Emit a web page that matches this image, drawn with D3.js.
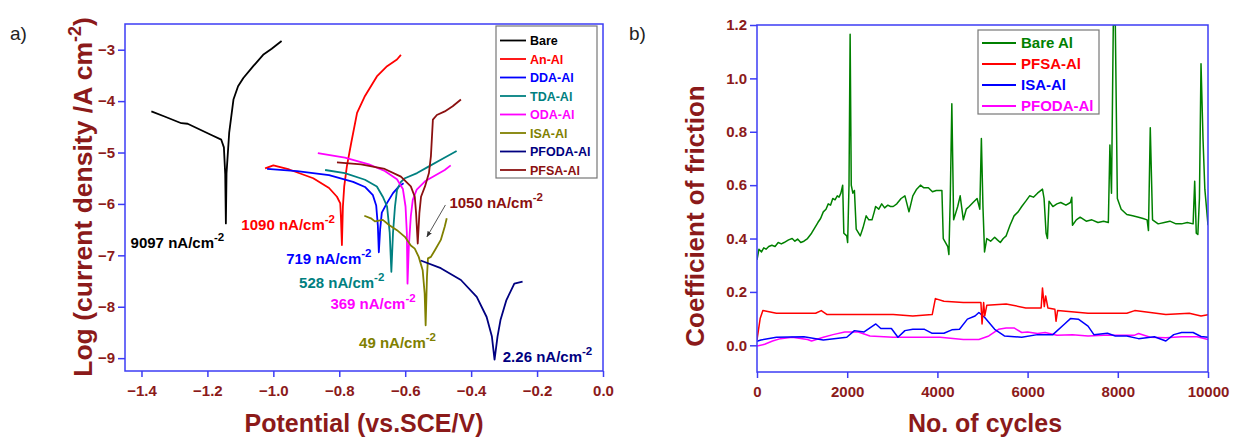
<!DOCTYPE html>
<html>
<head>
<meta charset="utf-8">
<script src="https://cdn.jsdelivr.net/npm/d3@7"></script>
<style>
  html, body { margin: 0; padding: 0; background: #fff; }
  svg { display: block; font-family: Arial, "Liberation Sans", sans-serif; }
</style>
</head>
<body>
<div id="chart"></div>
<script>
// ---------- panel a : Tafel curves [potential V, log i] ----------
const tafelNames = ["Bare", "An-Al", "DDA-Al", "TDA-Al", "ODA-Al", "ISA-Al", "PFODA-Al", "PFSA-Al"];
const tafelColors = ["#000000", "#ff0000", "#0000ff", "#008080", "#ff00ff", "#808000", "#000080", "#8b1010"];

const bare = [[-1.37,-4.2],[-1.33,-4.3],[-1.279,-4.43],[-1.26,-4.44],[-1.188,-4.66],[-1.158,-4.75],[-1.15,-4.9],
  [-1.146,-5.42],[-1.144,-6.38],[-1.142,-5.4],[-1.134,-4.62],[-1.121,-3.97],[-1.107,-3.71],[-1.091,-3.55],
  [-1.061,-3.32],[-1.031,-3.1],[-1.005,-2.98],[-0.975,-2.83]];
const anAl = [[-1.025,-5.31],[-1.0,-5.25],[-0.952,-5.33],[-0.879,-5.5],[-0.831,-5.69],[-0.807,-5.86],[-0.797,-5.99],
  [-0.795,-6.25],[-0.792,-6.8],[-0.789,-6.05],[-0.785,-5.66],[-0.777,-5.27],[-0.764,-4.82],[-0.746,-4.23],
  [-0.722,-3.9],[-0.686,-3.52],[-0.655,-3.32],[-0.625,-3.19],[-0.613,-3.1]];
const ddaAl = [[-1.019,-5.32],[-0.928,-5.36],[-0.831,-5.44],[-0.758,-5.57],[-0.722,-5.67],[-0.698,-5.83],
  [-0.688,-6.03],[-0.683,-6.42],[-0.680,-6.94],[-0.676,-6.49],[-0.671,-6.17],[-0.655,-5.98],[-0.637,-5.79],
  [-0.619,-5.66],[-0.605,-5.6]];
const tdaAl = [[-0.843,-5.34],[-0.783,-5.4],[-0.722,-5.53],[-0.686,-5.66],[-0.668,-5.86],[-0.655,-6.05],
  [-0.647,-6.56],[-0.642,-7.32],[-0.637,-6.56],[-0.631,-6.05],[-0.625,-5.73],[-0.613,-5.57],[-0.601,-5.5],
  [-0.564,-5.4],[-0.528,-5.27],[-0.492,-5.14],[-0.444,-4.97]];
const odaAl = [[-0.865,-5.01],[-0.783,-5.1],[-0.71,-5.23],[-0.662,-5.36],[-0.625,-5.52],[-0.607,-5.71],
  [-0.599,-6.05],[-0.595,-6.57],[-0.593,-7.55],[-0.589,-6.83],[-0.583,-6.24],[-0.577,-5.92],[-0.565,-5.72],
  [-0.540,-5.56],[-0.516,-5.47],[-0.48,-5.34],[-0.462,-5.25]];
const isaAl = [[-0.724,-6.23],[-0.704,-6.28],[-0.692,-6.34],[-0.668,-6.31],[-0.649,-6.41],[-0.625,-6.51],
  [-0.601,-6.64],[-0.583,-6.81],[-0.571,-6.87],[-0.559,-7.03],[-0.547,-7.29],[-0.541,-7.74],[-0.538,-8.36],
  [-0.534,-7.42],[-0.531,-7.06],[-0.522,-7.03],[-0.51,-6.9],[-0.492,-6.7],[-0.48,-6.44],[-0.474,-6.28]];
const pfodaAl = [[-0.553,-7.1],[-0.492,-7.25],[-0.431,-7.48],[-0.383,-7.81],[-0.353,-8.2],[-0.337,-8.58],
  [-0.329,-9.03],[-0.32,-8.58],[-0.311,-8.26],[-0.293,-7.87],[-0.269,-7.55],[-0.244,-7.51]];
const pfsaAl = [[-0.807,-5.19],[-0.734,-5.23],[-0.662,-5.32],[-0.613,-5.47],[-0.583,-5.66],[-0.571,-5.86],
  [-0.567,-6.18],[-0.562,-6.77],[-0.557,-6.18],[-0.552,-5.86],[-0.540,-5.66],[-0.528,-5.4],[-0.522,-5.07],
  [-0.516,-4.36],[-0.504,-4.27],[-0.480,-4.2],[-0.456,-4.1],[-0.431,-3.97]];
const tafelSeries = [bare, anAl, ddaAl, tdaAl, odaAl, isaAl, pfodaAl, pfsaAl];

// corrosion current labels: [x, y, value, series index]
const icorrLabels = [[-1.433,-6.86,"9097",0],[-1.097,-6.51,"1090",1],[-0.961,-7.16,"719",2],[-0.922,-7.64,"528",3],
  [-0.827,-8.05,"369",4],[-0.74,-8.81,"49",5],[-0.304,-9.07,"2.26",6],[-0.466,-6.08,"1050",7]];
const arrowPts = [[-0.478,-6.02],[-0.534,-6.64]];

const xTicksA = [-1.4,-1.2,-1.0,-0.8,-0.6,-0.4,-0.2,0.0];
const yTicksA = [-3,-4,-5,-6,-7,-8,-9];

// ---------- panel b : friction [cycles, COF] ----------
const fricNames = ["Bare Al", "PFSA-Al", "ISA-Al", "PFODA-Al"];
const fricColors = ["#008000", "#ff0000", "#0000ff", "#ff00ff"];

const bareAl = [[0,0.32],[43,0.36],[100,0.35],[150,0.365],[200,0.36],[260,0.37],[330,0.375],[400,0.37],[470,0.385],
  [540,0.38],[600,0.385],[700,0.395],[780,0.40],[840,0.39],[900,0.398],[970,0.385],[1040,0.39],[1120,0.4],
  [1210,0.42],[1280,0.44],[1350,0.46],[1410,0.475],[1470,0.50],[1530,0.51],[1580,0.53],[1630,0.525],[1680,0.55],
  [1730,0.545],[1780,0.56],[1820,0.555],[1860,0.57],[1900,0.60],[1925,0.42],
  [1990,0.41],[2010,0.385],[2040,0.60],[2065,1.165],[2090,0.60],[2125,0.57],[2160,0.58],[2200,0.435],[2290,0.41],
  [2350,0.44],[2420,0.485],[2480,0.47],[2550,0.47],[2600,0.5],[2630,0.52],[2700,0.51],[2765,0.53],[2830,0.515],
  [2900,0.525],[2960,0.52],[3020,0.52],[3100,0.53],[3195,0.55],[3280,0.56],[3370,0.50],
  [3455,0.56],[3540,0.585],[3625,0.60],[3700,0.59],[3800,0.59],[3890,0.575],[3975,0.58],[4100,0.58],[4130,0.40],[4230,0.37],[4255,0.34],[4285,0.55],
  [4320,0.905],[4360,0.47],[4450,0.52],[4505,0.56],[4575,0.47],[4640,0.51],[4705,0.52],[4790,0.535],[4880,0.55],[4940,0.51],[4975,0.775],
  [5010,0.52],[5045,0.35],[5095,0.40],[5180,0.39],[5270,0.405],[5330,0.395],[5395,0.385],[5460,0.4],[5525,0.41],[5610,0.45],[5700,0.485],
  [5790,0.5],[5870,0.52],[5960,0.54],[6045,0.56],[6130,0.555],
  [6220,0.57],[6330,0.585],[6365,0.55],[6410,0.42],[6440,0.40],[6475,0.54],[6560,0.52],[6650,0.53],[6735,0.535],[6850,0.525],[6950,0.535],
  [6980,0.555],[6995,0.45],[7080,0.47],[7165,0.48],[7300,0.465],[7425,0.47],[7560,0.46],[7685,0.465],[7790,0.46],[7825,0.75],[7860,0.57],[7900,1.2],
  [7945,1.2],[7990,0.55],[8075,0.51],[8200,0.49],[8330,0.485],[8460,0.48],[8560,0.475],[8650,0.47],[8680,0.43],[8720,0.815],[8770,0.47],
  [8895,0.455],[9030,0.46],[9155,0.465],[9290,0.455],[9415,0.455],[9540,0.46],[9670,0.455],[9705,0.615],[9740,0.42],[9775,0.415],[9810,0.55],
  [9845,1.055],[9890,0.77],[9930,0.585],[10000,0.45]];
const pfsaFric = [[0,0.02],[70,0.10],[130,0.13],[430,0.12],[1300,0.12],[1425,0.13],[1555,0.115],[2160,0.115],
  [3020,0.115],[3455,0.11],[3885,0.115],[3955,0.175],[4145,0.165],[4575,0.16],[4965,0.16],[4990,0.08],[5025,0.16],
  [5050,0.11],[5095,0.15],[5525,0.155],[5960,0.14],[6300,0.14],[6330,0.215],[6370,0.145],[6400,0.185],[6450,0.14],
  [6605,0.135],[6630,0.09],[6665,0.13],[7340,0.12],[8200,0.12],[8375,0.13],[9065,0.115],[9585,0.12],[9845,0.11],
  [10000,0.115]];
const isaFric = [[0,0.015],[85,0.02],[430,0.03],[1040,0.032],[1470,0.02],[1990,0.03],[2160,0.055],[2375,0.05],
  [2505,0.065],[2635,0.08],[2745,0.063],[2980,0.063],[3125,0.03],[3280,0.055],[3455,0.06],[3715,0.06],[3885,0.045],
  [4145,0.045],[4320,0.058],[4490,0.06],[4665,0.098],[4835,0.11],[4920,0.123],[5050,0.104],[5270,0.06],[5485,0.035],
  [5870,0.03],[6220,0.04],[6560,0.04],[6820,0.08],[6950,0.1],[7125,0.098],[7340,0.072],[7470,0.04],[7770,0.045],
  [7945,0.035],[8200,0.035],[8460,0.025],[8810,0.032],[9065,0.016],[9240,0.04],[9415,0.048],[9670,0.048],
  [9845,0.033],[10000,0.03]];
const pfodaFric = [[0,-0.003],[170,0.004],[345,0.016],[520,0.025],[780,0.03],[1120,0.022],[1210,0.016],[1470,0.03],
  [1685,0.04],[1945,0.05],[2245,0.05],[2505,0.035],[3020,0.03],[3540,0.03],[4060,0.03],[4575,0.022],[4920,0.022],
  [5140,0.035],[5355,0.06],[5525,0.065],[5700,0.065],[5870,0.048],[6000,0.05],[6220,0.044],[6390,0.048],
  [6650,0.038],[6995,0.04],[7340,0.035],[7685,0.038],[8030,0.038],[8375,0.038],[8460,0.044],[8720,0.03],
  [9065,0.028],[9415,0.032],[9760,0.032],[10000,0.022]];
const fricSeries = [bareAl, pfsaFric, isaFric, pfodaFric];

const xTicksB = [0,2000,4000,6000,8000,10000];
const yTicksB = [0.0,0.2,0.4,0.6,0.8,1.0,1.2];

// ---------- drawing ----------
const W = 1235, H = 440;
const axisBlue = "#3c3cf5";
const labelRed = "#8b1a1a";

const svg = d3.select("#chart").append("svg")
  .attr("width", W).attr("height", H)
  .attr("viewBox", [0, 0, W, H]);

svg.append("defs").append("marker")
  .attr("id", "arrowhead")
  .attr("viewBox", "0 -5 10 10")
  .attr("refX", 9).attr("refY", 0)
  .attr("orient", "auto")
  .attr("markerWidth", 6).attr("markerHeight", 6)
  .append("path")
  .attr("d", "M0,-4L10,0L0,4")
  .attr("fill", "#333");

function frame(g, x, y, xTicks, yTicks, xFmt, yFmt) {
  const [x0, x1] = x.range(), [y1, y0] = y.range();
  const xa = g.append("g").attr("transform", `translate(0,${y1})`)
    .call(d3.axisBottom(x).tickValues(xTicks).tickFormat(xFmt).tickSize(6).tickSizeOuter(0));
  const ya = g.append("g").attr("transform", `translate(${x0},0)`)
    .call(d3.axisLeft(y).tickValues(yTicks).tickFormat(yFmt).tickSize(7).tickSizeOuter(0));
  [xa, ya].forEach(a => {
    a.select(".domain").remove();
    a.selectAll("line").attr("stroke", axisBlue).attr("stroke-width", 1.5);
    a.selectAll("text").attr("fill", labelRed).attr("font-size", 15).attr("font-weight", "bold")
      .attr("font-family", "Arial, 'Liberation Sans', sans-serif");
  });
  xa.selectAll("text").attr("dy", "1.05em");
  g.append("rect")
    .attr("x", x0).attr("y", y0).attr("width", x1 - x0).attr("height", y1 - y0)
    .attr("fill", "none").attr("stroke", axisBlue).attr("stroke-width", 1.5);
}

// ----- panel a -----
const xA = d3.scaleLinear().domain([-1.45, 0]).range([125, 603]);
const yA = d3.scaleLinear().domain([-9.25, -2.5]).range([371, 24]);
const gA = svg.append("g");

svg.append("text").attr("x", 10).attr("y", 40).attr("font-size", 19).attr("fill", "#222").text("a)");

const lineA = d3.line().x(d => xA(d[0])).y(d => yA(d[1]));
gA.append("g").selectAll("path")
  .data(tafelSeries)
  .join("path")
  .attr("d", lineA)
  .attr("fill", "none")
  .attr("stroke", (d, i) => tafelColors[i])
  .attr("stroke-width", 1.8)
  .attr("stroke-linejoin", "round");

frame(gA, xA, yA, xTicksA, yTicksA, d3.format(".1f"), d3.format("d"));

// icorr annotations
const ann = gA.append("g").selectAll("text")
  .data(icorrLabels)
  .join("text")
  .attr("x", d => xA(d[0])).attr("y", d => yA(d[1]))
  .attr("fill", d => tafelColors[d[3]])
  .attr("font-size", 15).attr("font-weight", "bold");
ann.append("tspan").text(d => d[2] + " nA/cm");
ann.append("tspan").attr("dy", -7).attr("font-size", 11.5).text("-2");

gA.append("line")
  .attr("x1", xA(arrowPts[0][0])).attr("y1", yA(arrowPts[0][1]))
  .attr("x2", xA(arrowPts[1][0])).attr("y2", yA(arrowPts[1][1]))
  .attr("stroke", "#555").attr("stroke-width", 1)
  .attr("marker-end", "url(#arrowhead)");

// legend a
const legA = gA.append("g");
legA.append("rect").attr("x", 496).attr("y", 26).attr("width", 101).attr("height", 152)
  .attr("fill", "#fff").attr("stroke", "#777").attr("stroke-width", 1.2);
tafelNames.forEach((n, i) => {
  const yy = 40.5 + i * 18.5;
  legA.append("line").attr("x1", 500).attr("x2", 526).attr("y1", yy).attr("y2", yy)
    .attr("stroke", tafelColors[i]).attr("stroke-width", 1.8);
  legA.append("text").attr("x", 530).attr("y", yy).attr("dy", "0.36em")
    .attr("font-size", 12.5).attr("font-weight", "bold").attr("fill", tafelColors[i]).text(n);
});

// titles a
svg.append("text").attr("x", 364).attr("y", 432).attr("text-anchor", "middle")
  .attr("font-size", 25).attr("font-weight", "bold").attr("fill", labelRed)
  .text("Potential (vs.SCE/V)");
const ytA = svg.append("text")
  .attr("transform", "translate(92,197) rotate(-90)")
  .attr("text-anchor", "middle")
  .attr("font-size", 26.5).attr("font-weight", "bold").attr("fill", labelRed);
ytA.append("tspan").text("Log (current density /A cm");
ytA.append("tspan").attr("dy", -11).attr("font-size", 18).text("-2");
ytA.append("tspan").attr("dy", 11).text(")");

// ----- panel b -----
const xB = d3.scaleLinear().domain([0, 10000]).range([757, 1208]);
const yB = d3.scaleLinear().domain([-0.1, 1.2]).range([372, 25]);
const gB = svg.append("g");

svg.append("text").attr("x", 629).attr("y", 40).attr("font-size", 19).attr("fill", "#222").text("b)");

gB.append("clipPath").attr("id", "clipB").append("rect")
  .attr("x", 757).attr("y", 25).attr("width", 451).attr("height", 347);

const lineB = d3.line().x(d => xB(d[0])).y(d => yB(d[1]));
gB.append("g").attr("clip-path", "url(#clipB)").selectAll("path")
  .data(fricSeries.slice().reverse())
  .join("path")
  .attr("d", lineB)
  .attr("fill", "none")
  .attr("stroke", (d, i) => fricColors[fricSeries.length - 1 - i])
  .attr("stroke-width", 1.5)
  .attr("stroke-linejoin", "round");

frame(gB, xB, yB, xTicksB, yTicksB, d3.format("d"), d3.format(".1f"));

// legend b
const legB = gB.append("g");
legB.append("rect").attr("x", 978).attr("y", 30).attr("width", 121).attr("height", 84)
  .attr("fill", "#fff").attr("stroke", "#777").attr("stroke-width", 1.2);
fricNames.forEach((n, i) => {
  const yy = 43 + i * 21;
  legB.append("line").attr("x1", 982).attr("x2", 1016).attr("y1", yy).attr("y2", yy)
    .attr("stroke", fricColors[i]).attr("stroke-width", 1.8);
  legB.append("text").attr("x", 1021).attr("y", yy).attr("dy", "0.36em")
    .attr("font-size", 15).attr("font-weight", "bold").attr("fill", fricColors[i]).text(n);
});

// titles b
svg.append("text").attr("x", 985).attr("y", 432).attr("text-anchor", "middle")
  .attr("font-size", 25).attr("font-weight", "bold").attr("fill", labelRed)
  .text("No. of cycles");
svg.append("text")
  .attr("transform", "translate(704,216) rotate(-90)")
  .attr("text-anchor", "middle")
  .attr("font-size", 26).attr("font-weight", "bold").attr("fill", labelRed)
  .text("Coefficient of friction");
</script>
</body>
</html>
